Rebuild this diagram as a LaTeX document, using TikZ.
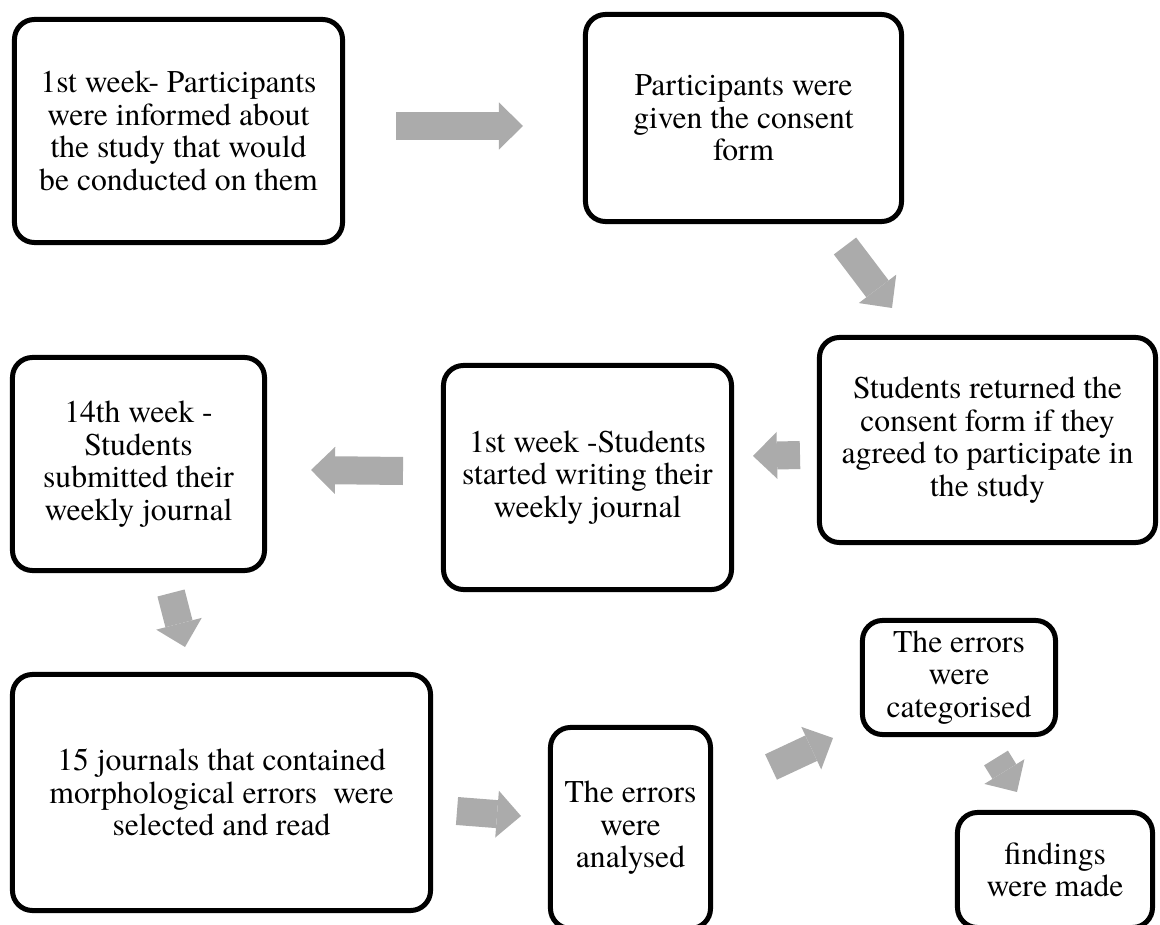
\documentclass[tikz,border=0pt]{standalone}
\usepackage{fontspec}
\setmainfont{texgyretermes}[Extension=.otf, UprightFont=*-regular, BoldFont=*-bold, ItalicFont=*-italic, BoldItalicFont=*-bolditalic]
\usetikzlibrary{arrows.meta}
\definecolor{arrowgray}{RGB}{171,171,171}

\begin{document}
\begin{tikzpicture}[x=0.025cm, y=-0.025cm,
	stage/.style={draw, line width=0.125cm, rounded corners=0.5cm, fill=white, align=center, inner sep=0pt, font=\fontsize{22.5}{23.1}\selectfont},
	garrow/.style={draw=arrowgray, line width=0.7cm, -{Triangle[width=1.175cm, length=0.6cm, line width=0pt]}}]

	\useasboundingbox (0,0) rectangle (1160,925);

	% the boxes, top row first
	\node[stage, minimum width=8.2cm, minimum height=5.575cm] (inform) at (178.5,131) {1st week- Participants\\were informed about\\the study that would\\be conducted on them};
	\node[stage, minimum width=7.9cm, minimum height=5.175cm] (consent) at (743.5,118) {Participants were\\given the consent\\form};
	\node[stage, minimum width=8.4cm, minimum height=5.125cm] (returned) at (987.5,440) {Students returned the\\consent form if they\\agreed to participate in\\the study};
	\node[stage, minimum width=7.2cm, minimum height=5.6cm] (started) at (587.5,477.5) {1st week -Students\\started writing their\\weekly journal};
	\node[stage, minimum width=6.3cm, minimum height=5.325cm] (submitted) at (138.5,464) {14th week -\\Students\\submitted their\\weekly journal};
	\node[stage, minimum width=10.45cm, minimum height=5.9cm] (selected) at (221.5,792.5) {15 journals that contained\\morphological errors~ were\\selected and read};
	\node[stage, minimum width=4cm, minimum height=5.025cm] (analysed) at (630.5,828) {The errors\\were\\analysed};
	\node[stage, minimum width=4.825cm, minimum height=2.85cm] (categorised) at (959,677.5) {The errors\\were\\categorised};
	\node[stage, minimum width=4.875cm, minimum height=2.875cm] (findings) at (1055,870) {findings\\were made};

	% grey block arrows
	\coordinate (ab1) at (396,126);
	\coordinate (ab2) at (523,126);
	\coordinate (bc1) at (845,246);
	\coordinate (bc2) at (892,308);
	\coordinate (cd1) at (800,455);
	\coordinate (cd2) at (753,456);
	\coordinate (de1) at (403,471);
	\coordinate (de2) at (311,470);
	\coordinate (ef1) at (171,593);
	\coordinate (ef2) at (185,647);
	\coordinate (fg1) at (457,811);
	\coordinate (fg2) at (521,816);
	\coordinate (gh1) at (771,767);
	\coordinate (gh2) at (833,738);
	\coordinate (hi1) at (996,758);
	\coordinate (hi2) at (1017,792);

	\draw[garrow] (ab1) -- (ab2);
	\draw[garrow] (bc1) -- (bc2);
	\draw[garrow] (cd1) -- (cd2);
	\draw[garrow] (de1) -- (de2);
	\draw[garrow] (ef1) -- (ef2);
	\draw[garrow] (fg1) -- (fg2);
	\draw[garrow] (gh1) -- (gh2);
	\draw[garrow] (hi1) -- (hi2);
\end{tikzpicture}
\end{document}
